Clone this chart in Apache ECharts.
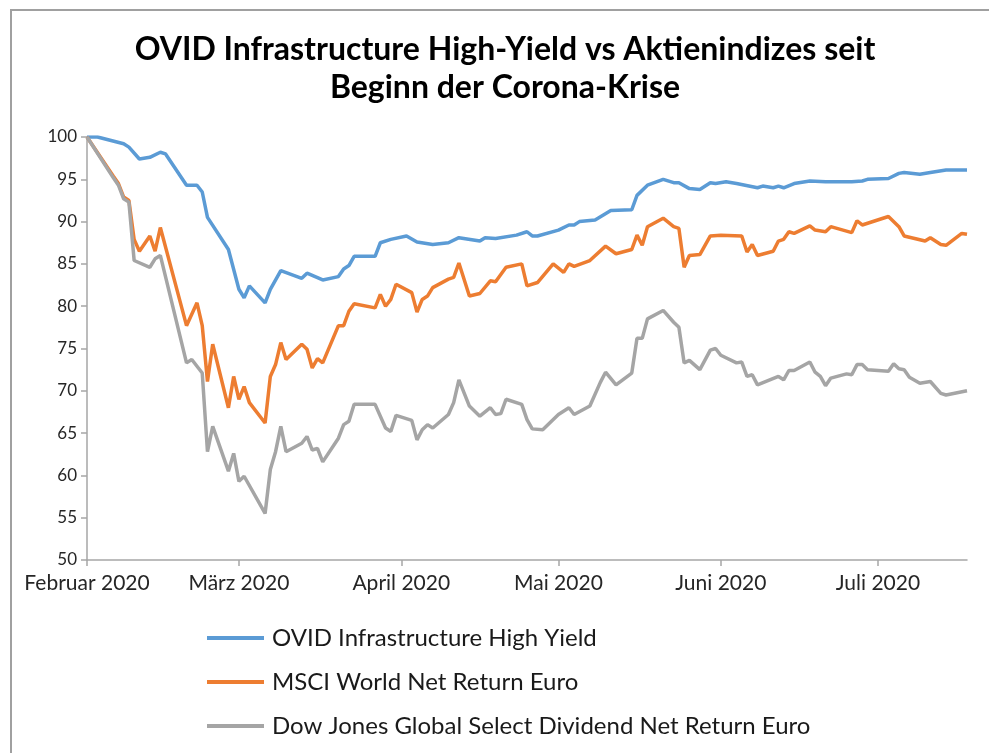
<!DOCTYPE html>
<html>
<head>
<meta charset="utf-8">
<script src="https://cdn.jsdelivr.net/npm/echarts@6/dist/echarts.min.js"></script>
<style>
  html, body { margin: 0; padding: 0; background: #fff; }
  #chart { width: 989px; height: 753px; }
</style>
</head>
<body>
<div id="chart"></div>
<script>
// Titel / Legende
const titleText = 'OVID Infrastructure High-Yield vs Aktienindizes seit\nBeginn der Corona-Krise';
const seriesNames = [
  'OVID Infrastructure High Yield',
  'MSCI World Net Return Euro',
  'Dow Jones Global Select Dividend Net Return Euro'
];
const monthLabels = ['Februar', 'März', 'April', 'Mai', 'Juni', 'Juli'];

// OVID Infrastructure High Yield
const ovidDates = [
  '2020-02-01', '2020-02-03', '2020-02-08', '2020-02-09', '2020-02-11', '2020-02-13', '2020-02-15', '2020-02-16',
  '2020-02-20', '2020-02-22', '2020-02-23', '2020-02-24', '2020-02-28', '2020-03-01', '2020-03-02', '2020-03-03',
  '2020-03-06', '2020-03-07', '2020-03-09', '2020-03-13', '2020-03-14', '2020-03-17', '2020-03-20', '2020-03-21',
  '2020-03-22', '2020-03-23', '2020-03-27', '2020-03-28', '2020-03-30', '2020-04-02', '2020-04-04', '2020-04-07',
  '2020-04-10', '2020-04-12', '2020-04-16', '2020-04-17', '2020-04-19', '2020-04-23', '2020-04-25', '2020-04-26',
  '2020-04-27', '2020-05-01', '2020-05-03', '2020-05-04', '2020-05-05', '2020-05-08', '2020-05-11', '2020-05-15',
  '2020-05-16', '2020-05-18', '2020-05-21', '2020-05-23', '2020-05-24', '2020-05-26', '2020-05-28', '2020-05-30',
  '2020-05-31', '2020-06-02', '2020-06-04', '2020-06-08', '2020-06-09', '2020-06-11', '2020-06-12', '2020-06-13',
  '2020-06-15', '2020-06-18', '2020-06-21', '2020-06-26', '2020-06-28', '2020-06-29', '2020-07-03', '2020-07-05',
  '2020-07-06', '2020-07-09', '2020-07-11', '2020-07-14', '2020-07-18'
];
const ovidValues = [
  100, 100, 99.2, 98.8, 97.4, 97.6, 98.2, 98.0,
  94.3, 94.3, 93.5, 90.5, 86.7, 82.0, 81.0, 82.4,
  80.4, 82.0, 84.2, 83.3, 83.9, 83.1, 83.5, 84.4,
  84.8, 85.9, 85.9, 87.5, 87.9, 88.3, 87.6, 87.3,
  87.5, 88.1, 87.7, 88.1, 88.0, 88.4, 88.8, 88.3,
  88.3, 89.0, 89.6, 89.6, 90.0, 90.2, 91.3, 91.4,
  93.1, 94.3, 95.0, 94.6, 94.6, 93.9, 93.8, 94.6,
  94.5, 94.7, 94.5, 94.0, 94.2, 94.0, 94.2, 94.0,
  94.5, 94.8, 94.7, 94.7, 94.8, 95.0, 95.1, 95.7,
  95.8, 95.6, 95.8, 96.1, 96.1
];

// MSCI World Net Return Euro
const msciDates = [
  '2020-02-01', '2020-02-06', '2020-02-07', '2020-02-08', '2020-02-09', '2020-02-10', '2020-02-11', '2020-02-13',
  '2020-02-14', '2020-02-15', '2020-02-20', '2020-02-22', '2020-02-23', '2020-02-24', '2020-02-25', '2020-02-28',
  '2020-02-29', '2020-03-01', '2020-03-02', '2020-03-03', '2020-03-06', '2020-03-07', '2020-03-08', '2020-03-09',
  '2020-03-10', '2020-03-13', '2020-03-14', '2020-03-15', '2020-03-16', '2020-03-17', '2020-03-20', '2020-03-21',
  '2020-03-22', '2020-03-23', '2020-03-27', '2020-03-28', '2020-03-29', '2020-03-30', '2020-03-31', '2020-04-03',
  '2020-04-04', '2020-04-05', '2020-04-06', '2020-04-07', '2020-04-10', '2020-04-11', '2020-04-12', '2020-04-14',
  '2020-04-16', '2020-04-18', '2020-04-19', '2020-04-21', '2020-04-24', '2020-04-25', '2020-04-27', '2020-04-30',
  '2020-05-02', '2020-05-03', '2020-05-04', '2020-05-07', '2020-05-10', '2020-05-12', '2020-05-15', '2020-05-16',
  '2020-05-17', '2020-05-18', '2020-05-21', '2020-05-23', '2020-05-24', '2020-05-25', '2020-05-26', '2020-05-28',
  '2020-05-30', '2020-06-01', '2020-06-05', '2020-06-06', '2020-06-07', '2020-06-08', '2020-06-11', '2020-06-12',
  '2020-06-13', '2020-06-14', '2020-06-15', '2020-06-18', '2020-06-19', '2020-06-21', '2020-06-22', '2020-06-26',
  '2020-06-27', '2020-06-28', '2020-07-03', '2020-07-05', '2020-07-06', '2020-07-10', '2020-07-11', '2020-07-13',
  '2020-07-14', '2020-07-17', '2020-07-18'
];
const msciValues = [
  100, 95.4, 94.5, 92.9, 92.5, 87.9, 86.5, 88.3,
  86.5, 89.3, 77.7, 80.4, 77.7, 71.1, 75.5, 68.0,
  71.7, 69.0, 70.5, 68.6, 66.2, 71.7, 73.1, 75.7,
  73.7, 75.5, 74.9, 72.7, 73.8, 73.3, 77.7, 77.7,
  79.4, 80.3, 79.8, 81.4, 80.0, 80.8, 82.6, 81.6,
  79.3, 80.8, 81.2, 82.2, 83.2, 83.4, 85.1, 81.2,
  81.5, 83.0, 82.9, 84.6, 85.0, 82.4, 82.8, 85.0,
  84.0, 85.0, 84.7, 85.4, 87.1, 86.2, 86.7, 88.4,
  87.2, 89.4, 90.4, 89.4, 89.2, 84.6, 86.0, 86.1,
  88.3, 88.4, 88.3, 86.4, 87.3, 86.0, 86.5, 87.7,
  87.9, 88.8, 88.6, 89.5, 89.0, 88.8, 89.4, 88.7,
  90.1, 89.6, 90.6, 89.4, 88.3, 87.7, 88.1, 87.3,
  87.2, 88.6, 88.5
];

// Dow Jones Global Select Dividend Net Return Euro
const djDates = [
  '2020-02-01', '2020-02-06', '2020-02-07', '2020-02-08', '2020-02-09', '2020-02-10', '2020-02-13', '2020-02-14',
  '2020-02-15', '2020-02-20', '2020-02-21', '2020-02-23', '2020-02-24', '2020-02-25', '2020-02-28', '2020-02-29',
  '2020-03-01', '2020-03-02', '2020-03-06', '2020-03-07', '2020-03-08', '2020-03-09', '2020-03-10', '2020-03-13',
  '2020-03-14', '2020-03-15', '2020-03-16', '2020-03-17', '2020-03-20', '2020-03-21', '2020-03-22', '2020-03-23',
  '2020-03-27', '2020-03-29', '2020-03-30', '2020-03-31', '2020-04-03', '2020-04-04', '2020-04-05', '2020-04-06',
  '2020-04-07', '2020-04-10', '2020-04-11', '2020-04-12', '2020-04-14', '2020-04-16', '2020-04-18', '2020-04-19',
  '2020-04-20', '2020-04-21', '2020-04-24', '2020-04-25', '2020-04-26', '2020-04-28', '2020-05-01', '2020-05-03',
  '2020-05-04', '2020-05-07', '2020-05-09', '2020-05-10', '2020-05-12', '2020-05-15', '2020-05-16', '2020-05-17',
  '2020-05-18', '2020-05-21', '2020-05-23', '2020-05-24', '2020-05-25', '2020-05-26', '2020-05-28', '2020-05-30',
  '2020-05-31', '2020-06-01', '2020-06-04', '2020-06-05', '2020-06-06', '2020-06-07', '2020-06-08', '2020-06-12',
  '2020-06-13', '2020-06-14', '2020-06-15', '2020-06-18', '2020-06-19', '2020-06-20', '2020-06-21', '2020-06-22',
  '2020-06-25', '2020-06-26', '2020-06-27', '2020-06-28', '2020-06-29', '2020-07-03', '2020-07-04', '2020-07-05',
  '2020-07-06', '2020-07-07', '2020-07-09', '2020-07-11', '2020-07-13', '2020-07-14', '2020-07-18'
];
const djValues = [
  100, 95.2, 94.3, 92.7, 92.3, 85.4, 84.6, 85.6,
  86.0, 73.3, 73.7, 72.1, 62.8, 65.8, 60.5, 62.6,
  59.3, 59.9, 55.5, 60.7, 62.8, 65.8, 62.8, 63.8,
  64.6, 63.0, 63.2, 61.6, 64.4, 66.0, 66.4, 68.4,
  68.4, 65.6, 65.2, 67.1, 66.5, 64.2, 65.4, 66.0,
  65.6, 67.2, 68.6, 71.3, 68.2, 67.0, 68.0, 67.2,
  67.3, 69.0, 68.4, 66.6, 65.5, 65.4, 67.2, 68.0,
  67.2, 68.2, 71.0, 72.2, 70.7, 72.1, 76.2, 76.2,
  78.5, 79.5, 78.1, 77.5, 73.3, 73.6, 72.5, 74.8,
  75.0, 74.2, 73.3, 73.4, 71.7, 71.9, 70.7, 71.7,
  71.3, 72.4, 72.4, 73.4, 72.2, 71.7, 70.6, 71.5,
  72.0, 71.9, 73.1, 73.1, 72.5, 72.3, 73.2, 72.6,
  72.5, 71.6, 70.9, 71.1, 69.7, 69.5, 70.0
];

const colors = ['#5B9BD5', '#ED7D31', '#A5A5A5'];
const font = 'Lato, "Open Sans", sans-serif';
const DAY = 86400000;

const toTime = (d) => new Date(d + 'T00:00:00').getTime();
const pairs = (dates, values) => dates.map((d, i) => [toTime(d), values[i]]);

var myChart = echarts.init(document.getElementById('chart'));

const option = {
  backgroundColor: '#ffffff',
  animation: false,
  color: colors,
  title: {
    text: titleText,
    left: 500,
    top: 26,
    textAlign: 'center',
    textStyle: {
      fontFamily: font,
      fontWeight: 'bold',
      fontSize: 32,
      lineHeight: 38,
      color: '#000000'
    }
  },
  legend: {
    orient: 'vertical',
    left: 202,
    top: 621,
    itemGap: 20,
    itemWidth: 57,
    itemHeight: 4,
    icon: 'rect',
    textStyle: {
      fontFamily: font,
      fontSize: 24,
      color: '#1a1a1a',
      padding: [0, 0, 0, 3]
    },
    data: seriesNames
  },
  grid: {
    left: 87,
    right: 22,
    top: 137,
    bottom: 193
  },
  xAxis: {
    type: 'time',
    min: toTime('2020-02-01'),
    max: toTime('2020-07-18'),
    minInterval: 28 * DAY,
    maxInterval: 31 * DAY,
    splitLine: {show: false},
    axisLine: {lineStyle: {color: '#a6a6a6', width: 1.5}},
    axisTick: {show: true, length: 6, lineStyle: {color: '#a6a6a6', width: 1.5}},
    axisLabel: {
      fontFamily: font,
      fontSize: 21,
      color: '#262626',
      margin: 13,
      showMinLabel: true,
      formatter: function (val) {
        const m = new Date(val).getMonth();
        return monthLabels[m - 1] + ' 2020';
      }
    }
  },
  yAxis: {
    type: 'value',
    min: 50,
    max: 100,
    interval: 5,
    splitLine: {show: false},
    axisLine: {show: true, lineStyle: {color: '#a6a6a6', width: 1.5}},
    axisTick: {show: true, length: 6, lineStyle: {color: '#a6a6a6', width: 1.5}},
    axisLabel: {
      fontFamily: font,
      fontSize: 17,
      color: '#262626',
      margin: 10
    }
  },
  graphic: [
    {
      type: 'polyline',
      shape: {points: [[11, 753], [11, 10], [989, 10]]},
      style: {stroke: '#a0a0a0', lineWidth: 2, fill: null},
      silent: true
    }
  ],
  series: [
    {
      name: seriesNames[0],
      type: 'line',
      showSymbol: false,
      lineStyle: {width: 3.5},
      data: pairs(ovidDates, ovidValues)
    },
    {
      name: seriesNames[1],
      type: 'line',
      showSymbol: false,
      lineStyle: {width: 3.5},
      data: pairs(msciDates, msciValues)
    },
    {
      name: seriesNames[2],
      type: 'line',
      showSymbol: false,
      lineStyle: {width: 3.5},
      data: pairs(djDates, djValues)
    }
  ]
};

myChart.setOption(option);
</script>
</body>
</html>
